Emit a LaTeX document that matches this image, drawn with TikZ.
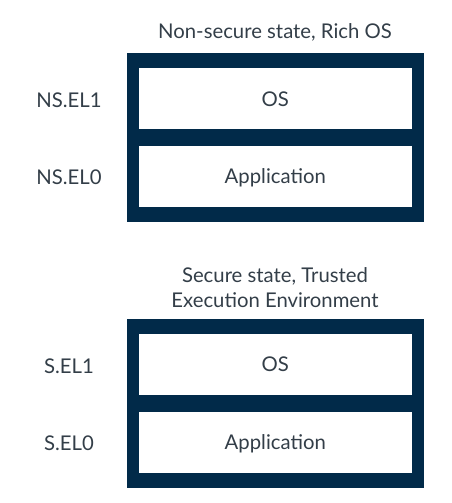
\documentclass[tikz,border=0pt]{standalone}
\usepackage{fontspec}
\setmainfont{Lato}
\usetikzlibrary{positioning}
\definecolor{frame}{RGB}{1,42,73}
\definecolor{ink}{RGB}{51,62,72}
\tikzset{
  frm/.style={fill=frame, draw=none, minimum width=297.3pt, minimum height=168.4pt, inner sep=0pt},
  lvl/.style={fill=white, draw=none, minimum width=272.7pt, minimum height=61pt, inner sep=0pt, text=ink, text depth=0pt},
  ellab/.style={text=ink, anchor=center, text depth=0pt},
  ttl/.style={text=ink, align=center},
}
% one security state: frame, two EL boxes, EL labels on the left
\newcommand{\elstack}[3]{%
  \node[frm] (#1frame) at (275.3,#2) {};
  \node[lvl] (#1os)  at (275.3,#2-38.7) {OS};
  \node[lvl] (#1app) at (275.3,#2+38.7) {Application};
  \node[ellab] (#1elone)  at (69,#2-37.5) {#3.EL1};
  \node[ellab] (#1elzero) at (69,#2+40) {#3.EL0};
}

\begin{document}
\begin{tikzpicture}[x=1pt, y=-1pt, font=\fontsize{20.3}{24}\selectfont]
  \useasboundingbox (0,0) rectangle (452,503);

  % ---------- non-secure state ----------
  \node[ttl] (nstitle) at (275,32) {Non-secure state, Rich OS};
  \elstack{ns}{137.5}{NS}

  % ---------- secure state ----------
  \node[ttl, font=\fontsize{20.3}{25}\selectfont] (stitle) at (275,287.5)
      {Secure state, Trusted\\Execution Environment};
  \elstack{s}{403.3}{S}

\end{tikzpicture}
\end{document}
